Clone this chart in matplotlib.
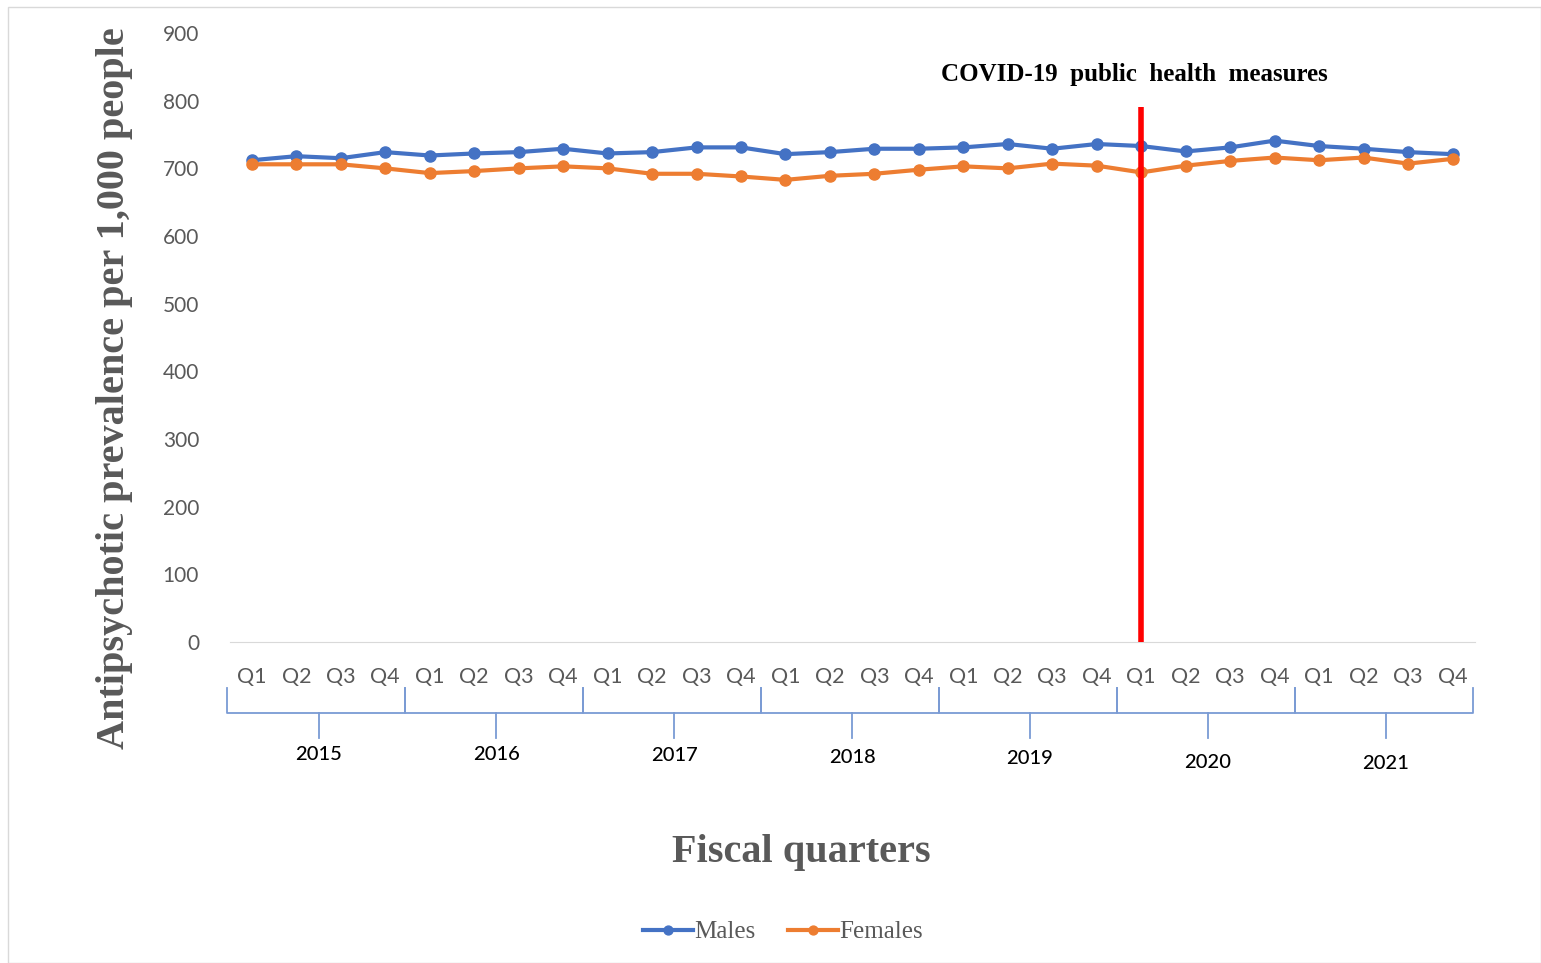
import matplotlib.pyplot as plt
from matplotlib.patches import Rectangle

years = ['2015', '2016', '2017', '2018', '2019', '2020', '2021']
quarters = ['Q1', 'Q2', 'Q3', 'Q4']
males = [712, 718, 715, 724, 719, 722, 724, 729, 722, 724,
         731, 731, 721, 724, 729, 729, 731, 736, 729, 736,
         733, 725, 731, 741, 733, 729, 724, 721]
females = [706, 706, 706, 700, 693, 696, 700, 703, 700, 692,
           692, 688, 683, 689, 692, 698, 703, 700, 707, 704,
           694, 704, 711, 716, 712, 716, 707, 714]
covid_idx = 20
# small vertical offsets of year labels as seen in the original (axes fraction)
year_y = [-0.185, -0.185, -0.187, -0.189, -0.192, -0.197, -0.200]

gray = '#595959'
blue = '#4472C4'
orange = '#ED7D31'
bracket = '#7A9BD4'

fig = plt.figure(figsize=(15.41, 9.63), dpi=100)
ax = fig.add_axes([0.149, 0.3333, 0.808, 0.6324])

x = list(range(len(males)))
ax.plot(x, males, color=blue, lw=3, marker='o', ms=8, label='Males')
ax.plot(x, females, color=orange, lw=3, marker='o', ms=8, label='Females')

ax.vlines(covid_idx, 0, 790, color='#FF0000', lw=4, zorder=5)
ax.text(covid_idx - 0.15, 838, 'COVID-19  public  health  measures', ha='center', va='center',
        fontsize=18, fontweight='bold', family='Liberation Serif', color='black')

ax.set_xlim(-0.5, len(males) - 0.5)
ax.set_ylim(0, 900)
ax.set_yticks(range(0, 901, 100))
ax.tick_params(axis='y', length=0, pad=22, labelsize=15, labelcolor=gray)
for lab in ax.get_yticklabels():
    lab.set_family('Lato')

ax.set_xticks(x)
ax.set_xticklabels(quarters * len(years), family='Lato', fontsize=15.5, color=gray)
ax.tick_params(axis='x', length=0, pad=18)

for s in ['top', 'right', 'left']:
    ax.spines[s].set_visible(False)
ax.spines['bottom'].set_color('#D9D9D9')

# year brackets under the quarter labels
tr = ax.get_xaxis_transform()
for i, yr in enumerate(years):
    x0 = i * 4 - 0.55
    x1 = i * 4 + 3.45
    xm = i * 4 + 1.5
    ax.plot([x0, x0, x1, x1], [-0.0755, -0.1166, -0.1166, -0.0755], transform=tr,
            color=bracket, lw=1.3, clip_on=False)
    ax.plot([xm, xm], [-0.1166, -0.1576], transform=tr, color=bracket, lw=1.3, clip_on=False)
    ax.text(xm, year_y[i], yr, transform=tr, ha='center', va='center',
            fontsize=14.5, family='Lato', fontweight='medium', color='black')

fig.text(0.0746, 0.597, 'Antipsychotic prevalence per 1,000 people', rotation=90,
         ha='center', va='center', fontsize=29, fontweight='bold',
         family='Liberation Serif', color=gray)
fig.text(0.520, 0.115, 'Fiscal quarters', ha='center', va='center', fontsize=29,
         fontweight='bold', family='Liberation Serif', color=gray)

fig.legend(loc='center', bbox_to_anchor=(0.508, 0.032), ncol=2, frameon=False,
           prop={'family': 'Liberation Serif', 'size': 18}, labelcolor=gray,
           handlelength=2.0, handletextpad=0.05, columnspacing=1.3, markerscale=0.8)

fig.patches.append(Rectangle((0.005, 0.0), 0.995, 0.993, transform=fig.transFigure,
                             fill=False, edgecolor='#D9D9D9', lw=1))

fig.savefig('out.png', dpi=100)
